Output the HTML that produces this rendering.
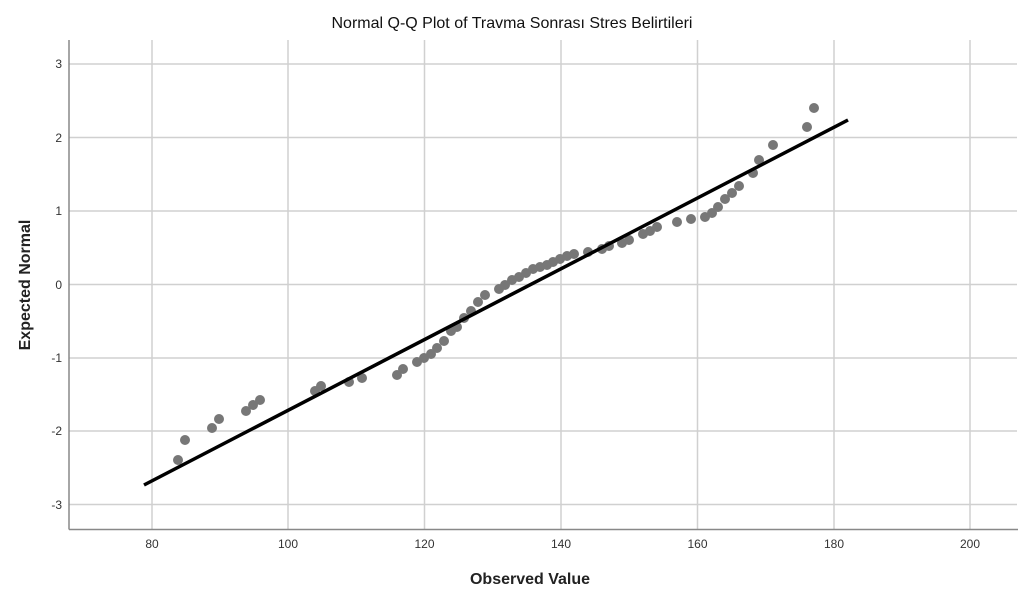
<!DOCTYPE html>
<html><head><meta charset="utf-8"><style>
html,body{margin:0;padding:0;background:#fff;}
svg text{font-family:"Liberation Sans",Arial,sans-serif;}
</style></head><body>
<svg width="1024" height="592" viewBox="0 0 1024 592" xmlns="http://www.w3.org/2000/svg">
<rect width="1024" height="592" fill="#fff"/>
<text x="512" y="28" text-anchor="middle" font-size="16" fill="#111">Normal Q-Q Plot of Travma Sonrası Stres Belirtileri</text>
<g stroke="#d0d0d0" stroke-width="1.5">
<line x1="152" y1="40" x2="152" y2="529"/>
<line x1="288" y1="40" x2="288" y2="529"/>
<line x1="424.5" y1="40" x2="424.5" y2="529"/>
<line x1="561" y1="40" x2="561" y2="529"/>
<line x1="697.5" y1="40" x2="697.5" y2="529"/>
<line x1="834" y1="40" x2="834" y2="529"/>
<line x1="970" y1="40" x2="970" y2="529"/>
<line x1="69" y1="64" x2="1017" y2="64"/>
<line x1="69" y1="137.5" x2="1017" y2="137.5"/>
<line x1="69" y1="211" x2="1017" y2="211"/>
<line x1="69" y1="284.5" x2="1017" y2="284.5"/>
<line x1="69" y1="358" x2="1017" y2="358"/>
<line x1="69" y1="431" x2="1017" y2="431"/>
<line x1="69" y1="504.5" x2="1017" y2="504.5"/>
</g>
<g stroke="#888" stroke-width="1.5">
<line x1="69" y1="40" x2="69" y2="529.5"/>
<line x1="69" y1="529.5" x2="1018" y2="529.5"/>
</g>
<g font-size="12" fill="#333" text-anchor="middle">
<text x="152" y="548">80</text><text x="288" y="548">100</text><text x="424.5" y="548">120</text>
<text x="561" y="548">140</text><text x="697.5" y="548">160</text><text x="834" y="548">180</text><text x="970" y="548">200</text>
</g>
<g font-size="12" fill="#333" text-anchor="end">
<text x="62" y="68">3</text><text x="62" y="142">2</text><text x="62" y="215">1</text><text x="62" y="289">0</text>
<text x="62" y="362">-1</text><text x="62" y="435">-2</text><text x="62" y="509">-3</text>
</g>
<text x="530" y="584" text-anchor="middle" font-size="16" font-weight="bold" fill="#222">Observed Value</text>
<text transform="translate(30,285) rotate(-90)" text-anchor="middle" font-size="16" font-weight="bold" fill="#222">Expected Normal</text>
<g fill="#777">
<circle cx="178" cy="460" r="5"/><circle cx="185" cy="440" r="5"/><circle cx="212" cy="428" r="5"/><circle cx="219" cy="419" r="5"/>
<circle cx="246" cy="411" r="5"/><circle cx="253" cy="405" r="5"/><circle cx="260" cy="400" r="5"/><circle cx="315" cy="391" r="5"/>
<circle cx="321" cy="386" r="5"/><circle cx="349" cy="382" r="5"/><circle cx="362" cy="378" r="5"/><circle cx="397" cy="375" r="5"/>
<circle cx="403" cy="369" r="5"/><circle cx="417" cy="362" r="5"/><circle cx="424" cy="358" r="5"/><circle cx="431" cy="354" r="5"/>
<circle cx="437" cy="348" r="5"/><circle cx="444" cy="341" r="5"/><circle cx="451" cy="331" r="5"/><circle cx="457" cy="327" r="5"/>
<circle cx="464" cy="318" r="5"/><circle cx="471" cy="311" r="5"/><circle cx="478" cy="302" r="5"/><circle cx="485" cy="295" r="5"/>
<circle cx="499" cy="289" r="5"/><circle cx="505" cy="285" r="5"/><circle cx="512" cy="280" r="5"/><circle cx="519" cy="277" r="5"/>
<circle cx="526" cy="273" r="5"/><circle cx="533" cy="269" r="5"/><circle cx="540" cy="267" r="5"/><circle cx="547" cy="265" r="5"/>
<circle cx="553" cy="262" r="5"/><circle cx="560" cy="259" r="5"/><circle cx="567" cy="256" r="5"/><circle cx="574" cy="254" r="5"/>
<circle cx="588" cy="252" r="5"/><circle cx="602" cy="249" r="5"/><circle cx="609" cy="246" r="5"/><circle cx="622" cy="243" r="5"/>
<circle cx="629" cy="240" r="5"/><circle cx="643" cy="234" r="5"/><circle cx="650" cy="231" r="5"/><circle cx="657" cy="227" r="5"/>
<circle cx="677" cy="222" r="5"/><circle cx="691" cy="219" r="5"/><circle cx="705" cy="217" r="5"/><circle cx="712" cy="213" r="5"/>
<circle cx="718" cy="207" r="5"/><circle cx="725" cy="199" r="5"/><circle cx="732" cy="193" r="5"/><circle cx="739" cy="186" r="5"/>
<circle cx="753" cy="173" r="5"/><circle cx="759" cy="160" r="5"/><circle cx="773" cy="145" r="5"/><circle cx="807" cy="127" r="5"/>
<circle cx="814" cy="108" r="5"/>
</g>
<line x1="144" y1="485" x2="848" y2="120" stroke="#000" stroke-width="3.5"/>
</svg>
</body></html>
